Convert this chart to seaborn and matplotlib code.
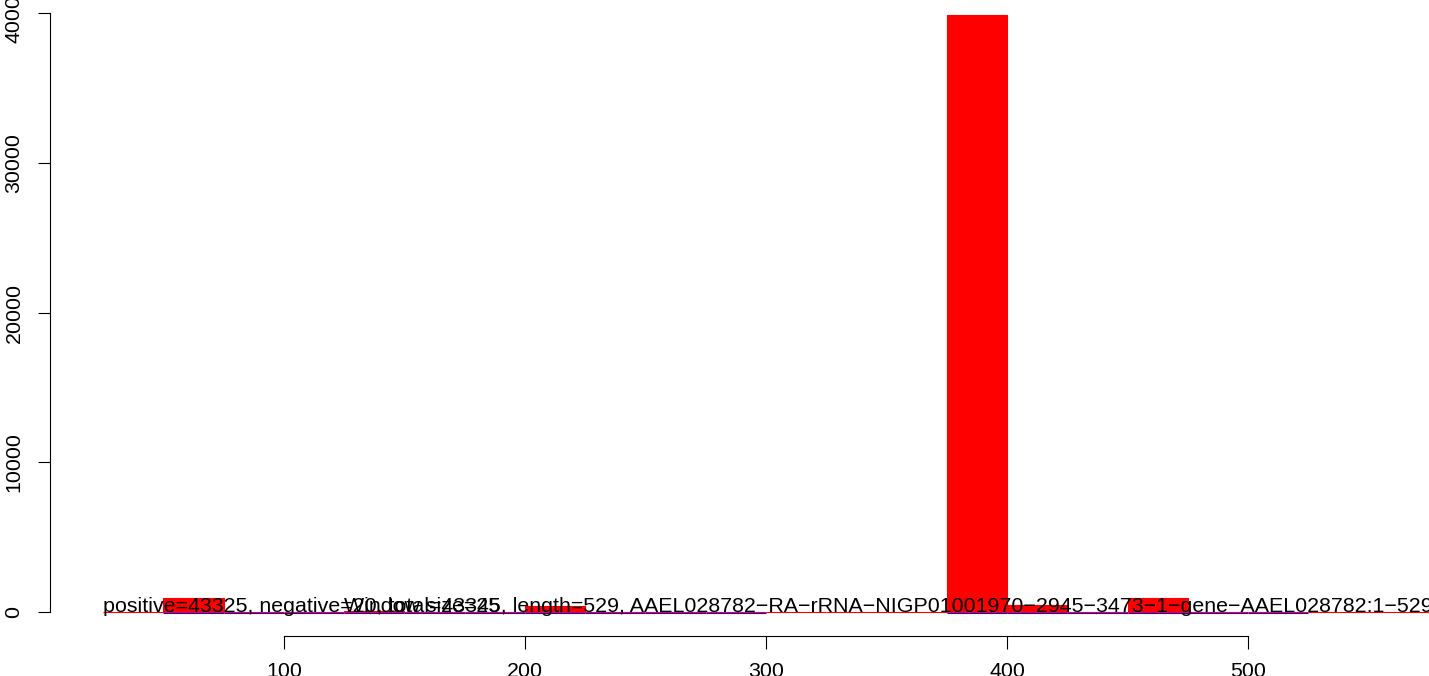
import numpy as np
import pandas as pd
import seaborn as sns
import matplotlib.pyplot as plt
from matplotlib.transforms import ScaledTranslation

# binned counts (bin width 25)
pos_edges = list(range(25, 625, 25))
pos_counts = [0, 936, 0, 0, 60, 0, 0, 350, 0, 0, 0, 0, 0, 0,
              39900, 468, 0, 936, 0, 0, 0, 0, 0]

neg_edges = list(range(50, 550, 25))
neg_counts = [1, 2, 1, 1, 2, 1, 1, 1, 1, 1, 0, 0, 0,
              2, 1, 2, 1, 1, 1]

x_ticks = [100, 200, 300, 400, 500]
y_ticks = [0, 10000, 20000, 30000, 40000]

info_text = ("positive=43325, negative=20, total=43345, length=529, "
             "AAEL028782\u2212RA\u2212rRNA\u2212NIGP01001970\u22122945\u22123473"
             "\u22121\u2212gene\u2212AAEL028782:1\u2212529")
window_text = "Window size=25"

pos = pd.DataFrame({"mid": np.array(pos_edges[:-1]) + 12.5, "n": pos_counts})
neg = pd.DataFrame({"mid": np.array(neg_edges[:-1]) + 12.5, "n": neg_counts})

plt.rcParams["font.family"] = ["Liberation Sans", "DejaVu Sans"]

fig = plt.figure(figsize=(14.29, 6.76), dpi=100)
ax = fig.add_axes([50 / 1429, 40 / 676, 1432 / 1429, 648 / 676])

sns.histplot(data=pos, x="mid", weights="n", bins=pos_edges, color="red",
             alpha=1, edgecolor="red", linewidth=0.8, ax=ax)
n_before = len(ax.patches)
sns.histplot(data=neg, x="mid", weights="n", bins=neg_edges, color="blue",
             alpha=1, edgecolor="blue", linewidth=0.8, ax=ax)

# empty negative bins are not drawn, the rest sit a pixel under the red
shift = ScaledTranslation(0, -1.3 / 100, fig.dpi_scale_trans)
for p in ax.patches[n_before:]:
    if p.get_height() == 0:
        p.set_visible(False)
    p.set_transform(ax.transData + shift)
    p.set_zorder(0.9)

ax.text(25, 0, info_text, ha="left", va="baseline", fontsize=15.4)
ax.text(125, 0, window_text, ha="left", va="baseline", fontsize=15.4)

ax.set_xlim(3, 597)
ax.set_ylim(-1624, 41700)
ax.set_xticks(x_ticks)
ax.set_yticks(y_ticks)
ax.set_yticklabels([str(v) for v in y_ticks], rotation=90, va="center")
ax.set_xlabel("")
ax.set_ylabel("")

for s in ["top", "right"]:
    ax.spines[s].set_visible(False)
ax.spines["left"].set_bounds(0, 40000)
ax.spines["bottom"].set_bounds(100, 500)
for s in ["left", "bottom"]:
    ax.spines[s].set_linewidth(0.8)
ax.tick_params(axis="both", length=9, width=0.8, labelsize=15.4, direction="out")
ax.tick_params(axis="x", pad=10)
ax.tick_params(axis="y", pad=10)
ax.set_facecolor("white")

fig.savefig("out.png", dpi=100)
